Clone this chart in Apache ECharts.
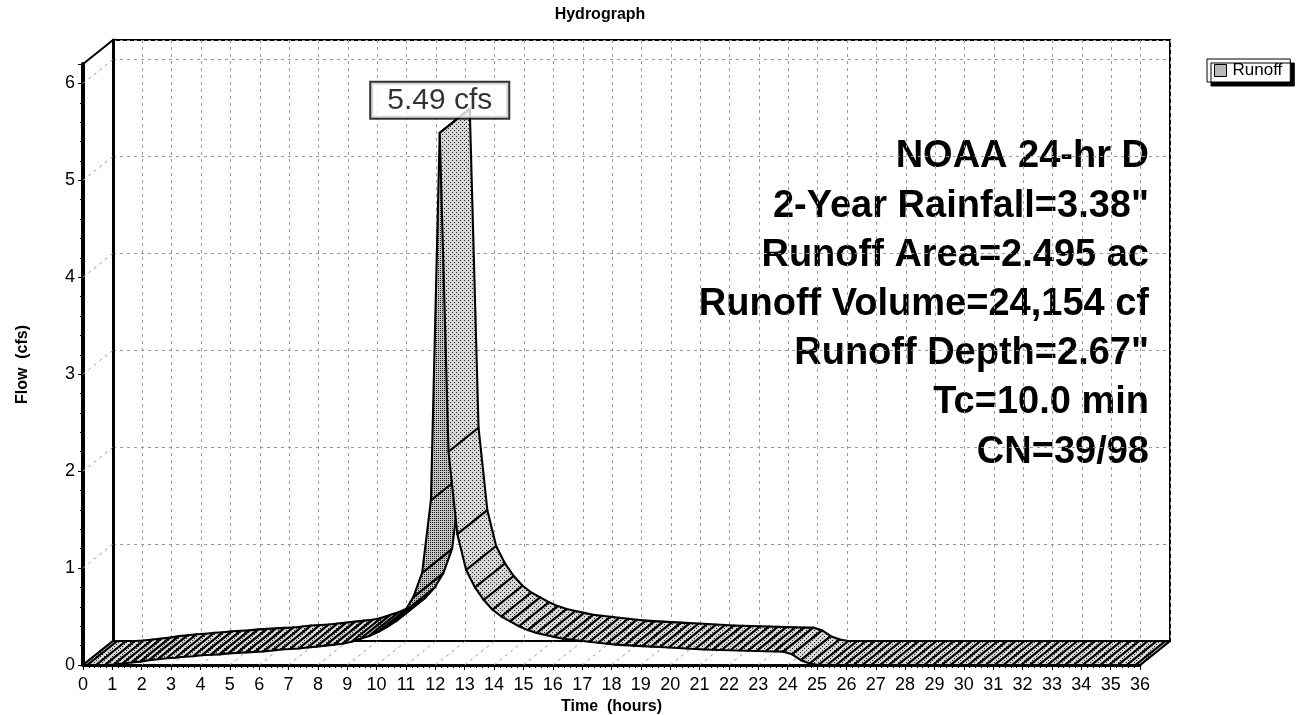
<!DOCTYPE html>
<html><head><meta charset="utf-8">
<script src="https://cdn.jsdelivr.net/npm/echarts@6/dist/echarts.min.js"></script>
<style>html,body{margin:0;padding:0;background:#fff}#c{width:1310px;height:715px}</style>
</head><body><div id="c"></div>
<script>
// ---- data ----
const hours = [0, 0.15, 0.45, 0.75, 1.05, 1.35, 1.65, 1.95, 2.25, 2.55, 2.85, 3.15, 3.45, 3.75, 4.05, 4.35, 4.65, 4.95, 5.25, 5.55, 5.85, 6.15, 6.45, 6.75, 7.05, 7.35, 7.65, 7.95, 8.25, 8.55, 8.85, 9.15, 9.45, 9.75, 10.05, 10.35, 10.65, 10.95, 11.25, 11.55, 11.85, 12.15, 12.45, 12.75, 13.05, 13.35, 13.65, 13.95, 14.25, 14.55, 14.85, 15.15, 15.45, 15.75, 16.05, 16.35, 16.65, 16.95, 17.25, 17.55, 17.85, 18.15, 18.45, 18.75, 19.05, 19.35, 19.65, 19.95, 20.25, 20.55, 20.85, 21.15, 21.45, 21.75, 22.05, 22.35, 22.65, 22.95, 23.25, 23.55, 23.85, 24.15, 24.45, 24.75, 25.05, 25.35, 25.65, 25.95, 26.25, 26.55, 26.85, 27.15, 27.45, 27.75, 28.05, 28.35, 28.65, 28.95, 29.25, 29.55, 29.85, 30.15, 30.45, 30.75, 31.05, 31.35, 31.65, 31.95, 32.25, 32.55, 32.85, 33.15, 33.45, 33.75, 34.05, 34.35, 34.65, 34.95, 35.25, 35.55, 35.85, 36];
const runoff = [0, 0, 0, 0, 0.005, 0.015, 0.025, 0.035, 0.05, 0.06, 0.07, 0.075, 0.085, 0.09, 0.10, 0.105, 0.11, 0.12, 0.125, 0.13, 0.135, 0.14, 0.15, 0.16, 0.165, 0.17, 0.18, 0.19, 0.20, 0.21, 0.22, 0.24, 0.27, 0.30, 0.34, 0.39, 0.45, 0.55, 0.70, 0.95, 1.70, 5.49, 2.20, 1.35, 0.98, 0.80, 0.67, 0.57, 0.50, 0.45, 0.40, 0.36, 0.33, 0.31, 0.29, 0.27, 0.26, 0.25, 0.24, 0.23, 0.22, 0.21, 0.205, 0.20, 0.195, 0.19, 0.185, 0.18, 0.175, 0.17, 0.165, 0.16, 0.158, 0.155, 0.152, 0.15, 0.147, 0.145, 0.142, 0.14, 0.138, 0.11, 0.05, 0.015, 0, 0, 0, 0, 0, 0, 0, 0, 0, 0, 0, 0, 0, 0, 0, 0, 0, 0, 0, 0, 0, 0, 0, 0, 0, 0, 0, 0, 0, 0, 0, 0, 0, 0, 0, 0, 0, 0];
const timeTicks = [0,1,2,3,4,5,6,7,8,9,10,11,12,13,14,15,16,17,18,19,20,21,22,23,24,25,26,27,28,29,30,31,32,33,34,35,36];
const flowTicks = [0,1,2,3,4,5,6];
const seriesName = 'Runoff';
const peakUnit = 'cfs';
const chartTitle = 'Hydrograph';
const xName = 'Time  (hours)';
const yName = 'Flow  (cfs)';
const infoLines = ['NOAA 24-hr D', '2-Year Rainfall=3.38"', 'Runoff Area=2.495 ac', 'Runoff Volume=24,154 cf', 'Runoff Depth=2.67"', 'Tc=10.0 min', 'CN=39/98'];

// ---- layout / style ----
const FONT = '"Liberation Sans", Arial, sans-serif';
const DX = 30, DY = 24;               // 3-D depth offset
const FRONT = {left: 83, top: 64, width: 1057, height: 601};
const YMAX = 6.2, XMAX = 36;

function makePattern(bg, dot, cells, n) {
  const c = document.createElement('canvas'); c.width = n; c.height = n;
  const g = c.getContext('2d'); g.fillStyle = bg; g.fillRect(0, 0, n, n);
  g.fillStyle = dot; cells.forEach(p => g.fillRect(p[0], p[1], 1, 1));
  return c;
}
const patTop = {image: makePattern('#d6d6d6', '#222', [[0,0],[2,2]], 4), repeat: 'repeat'};
const patUnder = {image: makePattern('#c4c4c4', '#1a1a1a', [[0,0],[2,2],[2,0],[0,2]], 4), repeat: 'repeat'};

const segs = [];
for (let i = 0; i < hours.length - 1; i++) segs.push([hours[i], runoff[i], hours[i+1], runoff[i+1]]);

const frame = [];
timeTicks.forEach(t => frame.push([t, 0, (t === 0 || t === XMAX) ? 1 : 0]));
flowTicks.forEach(v => { if (v > 0) frame.push([0, v, 0]); });
frame.push([0, YMAX, 1]);

let peakIdx = 0;
runoff.forEach((v, i) => { if (v > runoff[peakIdx]) peakIdx = i; });

const chart = echarts.init(document.getElementById('c'), null, {renderer: 'canvas'});
chart.setOption({
  animation: false,
  backgroundColor: '#fff',
  textStyle: {fontFamily: FONT},
  grid: [
    Object.assign({outerBoundsMode: 'none', containLabel: false, show: false}, FRONT),
    {outerBoundsMode: 'none', containLabel: false, left: FRONT.left + DX, top: FRONT.top - DY, width: FRONT.width, height: FRONT.height,
     show: true, borderColor: '#000', borderWidth: 2, backgroundColor: 'transparent'}
  ],
  xAxis: [
    {type: 'value', gridIndex: 0, min: 0, max: XMAX, interval: 1,
     name: xName, nameLocation: 'middle', nameGap: 33,
     nameTextStyle: {fontFamily: FONT, fontWeight: 'bold', fontSize: 16, color: '#000'},
     axisLine: {show: true, onZero: false, lineStyle: {color: '#000', width: 3}},
     axisTick: {show: true, length: 5, lineStyle: {color: '#000', width: 1}},
     minorTick: {show: true, splitNumber: 5, length: 3, lineStyle: {color: '#000', width: 1}},
     axisLabel: {show: true, fontSize: 18, color: '#000', margin: 11, fontFamily: FONT},
     splitLine: {show: false}},
    {type: 'value', gridIndex: 1, min: 0, max: XMAX, interval: 1,
     axisLine: {show: true, onZero: false, lineStyle: {color: '#000', width: 2}},
     axisTick: {show: false}, axisLabel: {show: false},
     splitLine: {show: true, lineStyle: {color: '#999', width: 1, type: [3, 4]}}}
  ],
  yAxis: [
    {type: 'value', gridIndex: 0, min: 0, max: YMAX, interval: 1,
     name: yName, nameLocation: 'middle', nameGap: 52, nameRotate: 90,
     nameTextStyle: {fontFamily: FONT, fontWeight: 'bold', fontSize: 16, color: '#000'},
     axisLine: {show: true, onZero: false, lineStyle: {color: '#000', width: 4}},
     axisTick: {show: true, length: 5, lineStyle: {color: '#000', width: 1}},
     minorTick: {show: true, splitNumber: 5, length: 3, lineStyle: {color: '#000', width: 1}},
     axisLabel: {show: true, fontSize: 18, color: '#000', margin: 8, showMaxLabel: false, fontFamily: FONT,
                 formatter: v => (Number.isInteger(v) ? String(v) : '')},
     splitLine: {show: false}},
    {type: 'value', gridIndex: 1, min: 0, max: YMAX, interval: 1,
     axisLine: {show: true, onZero: false, lineStyle: {color: '#000', width: 3}},
     axisTick: {show: false}, axisLabel: {show: false},
     splitLine: {show: true, lineStyle: {color: '#999', width: 1, type: [3, 4]}}}
  ],
  legend: {
    data: [{name: seriesName, icon: 'rect'}],
    left: 1207, top: 59, orient: 'horizontal',
    itemWidth: 12, itemHeight: 12, itemGap: 4, padding: [3, 8, 3, 7],
    textStyle: {fontSize: 17, color: '#000', fontFamily: FONT, padding: [0, 0, 0, 1]},
    backgroundColor: '#fff', borderColor: '#000', borderWidth: 1,
    shadowColor: '#000', shadowOffsetX: 4, shadowOffsetY: 4, shadowBlur: 0,
    itemStyle: {color: '#b8b8b8', borderColor: '#000', borderWidth: 1},
    selectedMode: false
  },
  graphic: [
    {type: 'text', x: 600, y: 15, style: {text: chartTitle, font: 'bold 16px ' + FONT, fill: '#000', align: 'center', verticalAlign: 'middle'}}
  ].concat(infoLines.map((s, i) => ({
    type: 'text', x: 1149, y: 157 + i * 49.2,
    style: {text: s, font: 'bold 38px ' + FONT, fill: '#000', align: 'right', verticalAlign: 'middle'}
  }))),
  series: [
    {type: 'custom', name: 'frame', xAxisIndex: 0, yAxisIndex: 0, z: 1, silent: true,
     data: frame, encode: {x: 0, y: 1},
     renderItem: (params, api) => {
       const p = api.coord([api.value(0), api.value(1)]);
       const solid = api.value(2) === 1;
       return {type: 'line', shape: {x1: p[0], y1: p[1], x2: p[0] + DX, y2: p[1] - DY},
               style: {stroke: solid ? '#000' : '#999', lineWidth: solid ? 2 : 1, lineDash: solid ? null : [3, 4]}};
     }},
    {type: 'custom', name: seriesName, xAxisIndex: 0, yAxisIndex: 0, z: 3, silent: true,
     itemStyle: {color: '#b8b8b8'},
     data: segs, encode: {x: [0, 2], y: [1, 3]},
     renderItem: (params, api) => {
       const a = api.coord([api.value(0), api.value(1)]);
       const b = api.coord([api.value(2), api.value(3)]);
       const ax = b[0] - a[0], ay = b[1] - a[1];
       const under = (ax * (-DY) - ay * DX) > 0;
       return {type: 'polygon',
               shape: {points: [a, b, [b[0] + DX, b[1] - DY], [a[0] + DX, a[1] - DY]]},
               style: {fill: under ? patUnder : patTop, stroke: '#000', lineWidth: 2.1, lineJoin: 'round'}};
     }},
    {type: 'scatter', name: 'peak', xAxisIndex: 0, yAxisIndex: 0, z: 6, silent: true,
     symbolSize: 0, data: [[hours[peakIdx], runoff[peakIdx]]],
     label: {show: true, position: 'top', distance: 15,
             formatter: p => p.value[1].toFixed(2) + ' ' + peakUnit,
             fontSize: 30, fontFamily: FONT, color: '#000', lineHeight: 32,
             backgroundColor: '#fff', borderColor: '#000', borderWidth: 2, padding: [2, 16, 1, 16]}}
  ]
});
</script></body></html>
